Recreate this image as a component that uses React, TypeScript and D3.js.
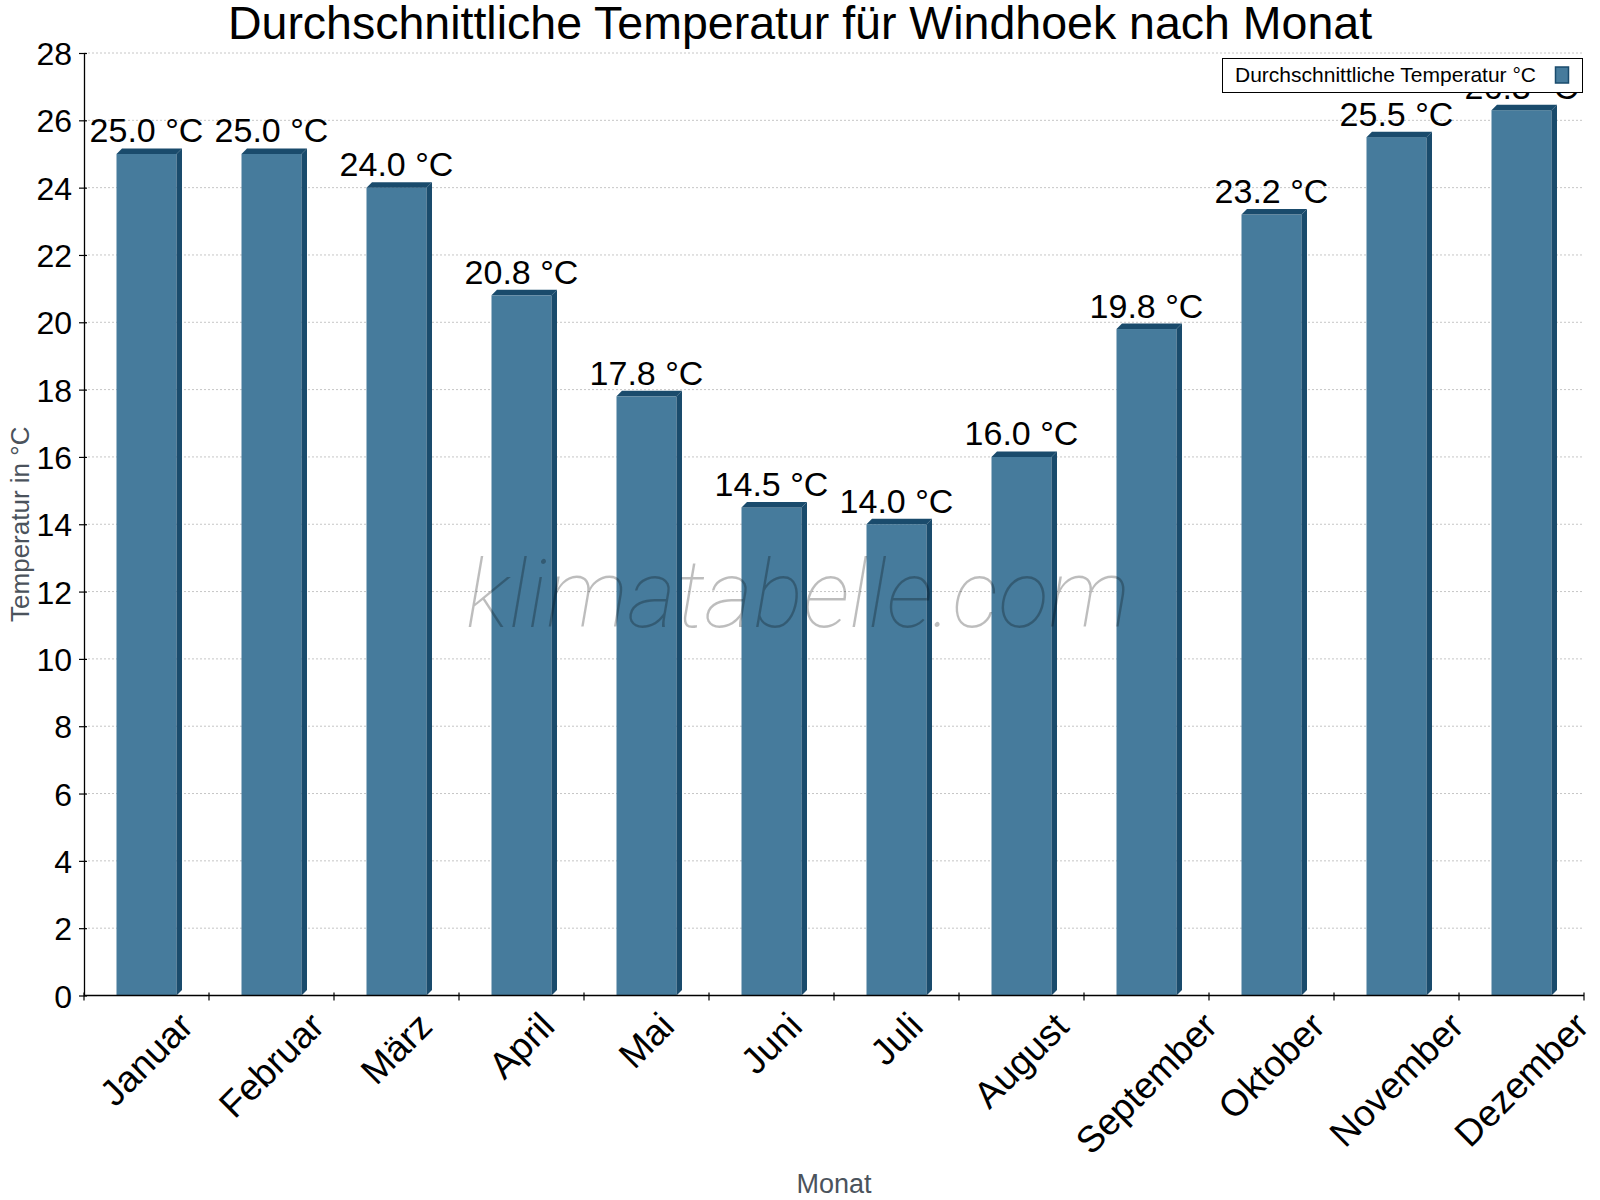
import React, { useEffect, useRef } from "react";
import * as d3 from "d3";

// Monthly mean temperature, Windhoek
const months = [
  "Januar", "Februar", "März", "April", "Mai", "Juni",
  "Juli", "August", "September", "Oktober", "November", "Dezember"
];
const temps = [25.0, 25.0, 24.0, 20.8, 17.8, 14.5, 14.0, 16.0, 19.8, 23.2, 25.5, 26.3];
const yTicks = [0, 2, 4, 6, 8, 10, 12, 14, 16, 18, 20, 22, 24, 26, 28];

const title = "Durchschnittliche Temperatur für Windhoek nach Monat";
const seriesName = "Durchschnittliche Temperatur °C";
const yTitle = "Temperatur in °C";
const xTitle = "Monat";
const watermark = "klimatabelle.com";

export default function App() {
  const ref = useRef<SVGSVGElement>(null);

  useEffect(() => {
    const W = 1600, H = 1200;
    const left = 84, right = 1584, top = 53, bottom = 995.5;
    const font = "'Liberation Sans', Arial, sans-serif";
    const front = "#467b9c";
    const dark = "#1a4b6c";

    const svg = d3.select(ref.current!);
    svg.selectAll("*").remove();
    svg.attr("width", W).attr("height", H);

    const x = d3.scaleBand<string>().domain(months).range([left, right]).padding(0);
    const y = d3.scaleLinear().domain([0, 28]).range([bottom, top]);

    // dotted horizontal grid
    svg.append("g")
      .selectAll("line")
      .data(yTicks.filter(d => d > 0))
      .join("line")
      .attr("x1", left)
      .attr("x2", right)
      .attr("y1", d => y(d))
      .attr("y2", d => y(d))
      .attr("stroke", "#c6c6c6")
      .attr("stroke-width", 1)
      .attr("stroke-dasharray", "2,2");

    // pseudo-3D bars
    const bw = x.bandwidth() * 0.48;
    const depth = 5.5;
    const bars = svg.append("g")
      .selectAll("g")
      .data(months.map((m, i) => ({ m, v: temps[i] })))
      .join("g");

    bars.append("rect")
      .attr("x", d => x(d.m)! + (x.bandwidth() - bw) / 2)
      .attr("y", d => y(d.v))
      .attr("width", bw)
      .attr("height", d => y(0) - y(d.v))
      .attr("fill", front);

    bars.append("polygon")
      .attr("points", d => {
        const x0 = x(d.m)! + (x.bandwidth() - bw) / 2, x1 = x0 + bw, yt = y(d.v);
        return [[x0, yt], [x0 + depth, yt - depth], [x1 + depth, yt - depth], [x1, yt]].join(" ");
      })
      .attr("fill", dark);

    bars.append("polygon")
      .attr("points", d => {
        const x1 = x(d.m)! + (x.bandwidth() + bw) / 2, yt = y(d.v), y0 = y(0);
        return [[x1, yt], [x1 + depth, yt - depth], [x1 + depth, y0 - depth], [x1, y0]].join(" ");
      })
      .attr("fill", dark);

    // watermark over the bars
    svg.append("text")
      .attr("x", 798)
      .attr("y", 627)
      .attr("text-anchor", "middle")
      .attr("font-family", "Roboto, sans-serif")
      .attr("font-weight", 100)
      .attr("font-style", "italic")
      .attr("font-size", 94)
      .attr("fill", "#000")
      .attr("fill-opacity", 0.26)
      .text(watermark);

    // y axis
    const yAxis = svg.append("g")
      .attr("transform", `translate(${left},0)`)
      .call(d3.axisLeft(y).tickValues(yTicks).tickSize(5).tickSizeOuter(0).tickFormat(d => String(d)));
    yAxis.select(".domain").attr("stroke", "#000").attr("stroke-width", 1.3);
    yAxis.selectAll(".tick line").attr("x1", 3).attr("stroke", "#000").attr("stroke-width", 1.2);
    yAxis.selectAll(".tick text")
      .attr("x", -12)
      .attr("dy", "0.36em")
      .attr("font-family", font)
      .attr("font-size", 32)
      .attr("fill", "#000");

    // x axis line and ticks at band boundaries
    svg.append("line")
      .attr("x1", left)
      .attr("x2", right)
      .attr("y1", y(0))
      .attr("y2", y(0))
      .attr("stroke", "#000")
      .attr("stroke-width", 1.3);
    const bounds = months.map(m => x(m)!).concat([x(months[months.length - 1])! + x.bandwidth()]);
    svg.append("g")
      .selectAll("line")
      .data(bounds)
      .join("line")
      .attr("x1", d => d)
      .attr("x2", d => d)
      .attr("y1", y(0) - 3)
      .attr("y2", y(0) + 5)
      .attr("stroke", "#000")
      .attr("stroke-width", 1.2);

    // rotated month labels, centred on the band
    const labelTop = 1005;
    months.forEach(m => {
      const g = svg.append("g");
      g.append("text")
        .attr("transform", "rotate(-45)")
        .attr("text-anchor", "end")
        .attr("font-family", font)
        .attr("font-size", 37)
        .attr("fill", "#000")
        .text(m);
      const bb = (g.node() as SVGGElement).getBBox();
      const cx = x(m)! + x.bandwidth() / 2;
      g.attr("transform", `translate(${cx - (bb.x + bb.width / 2)},${labelTop - bb.y})`);
    });

    // value labels
    svg.append("g")
      .selectAll("text")
      .data(months.map((m, i) => ({ m, v: temps[i] })))
      .join("text")
      .attr("x", d => x(d.m)! + x.bandwidth() / 2)
      .attr("y", d => y(d.v) - 11.5)
      .attr("text-anchor", "middle")
      .attr("font-family", font)
      .attr("font-size", 34)
      .attr("fill", "#000")
      .text(d => `${d.v.toFixed(1)} °C`);

    // titles
    svg.append("text")
      .attr("x", 800)
      .attr("y", 39)
      .attr("text-anchor", "middle")
      .attr("font-family", font)
      .attr("font-size", 46.5)
      .attr("fill", "#000")
      .text(title);

    svg.append("text")
      .attr("transform", `translate(29,${(top + bottom) / 2}) rotate(-90)`)
      .attr("text-anchor", "middle")
      .attr("font-family", font)
      .attr("font-size", 26)
      .attr("fill", "#4b535c")
      .text(yTitle);

    svg.append("text")
      .attr("x", (left + right) / 2)
      .attr("y", 1193)
      .attr("text-anchor", "middle")
      .attr("font-family", font)
      .attr("font-size", 27)
      .attr("fill", "#4b535c")
      .text(xTitle);

    // legend
    const lg = svg.append("g");
    lg.append("rect")
      .attr("x", 1222.5)
      .attr("y", 58.5)
      .attr("width", 360)
      .attr("height", 34)
      .attr("fill", "#fff")
      .attr("stroke", "#000")
      .attr("stroke-width", 1);
    lg.append("text")
      .attr("x", 1235)
      .attr("y", 82)
      .attr("font-family", font)
      .attr("font-size", 21)
      .attr("fill", "#000")
      .text(seriesName);
    lg.append("rect")
      .attr("x", 1555.5)
      .attr("y", 67)
      .attr("width", 13)
      .attr("height", 16)
      .attr("fill", front)
      .attr("stroke", dark)
      .attr("stroke-width", 1.5);
  }, []);

  return (
    <svg
      ref={ref}
      width={1600}
      height={1200}
      style={{ position: "absolute", left: 0, top: 0, background: "#fff" }}
    />
  );
}
